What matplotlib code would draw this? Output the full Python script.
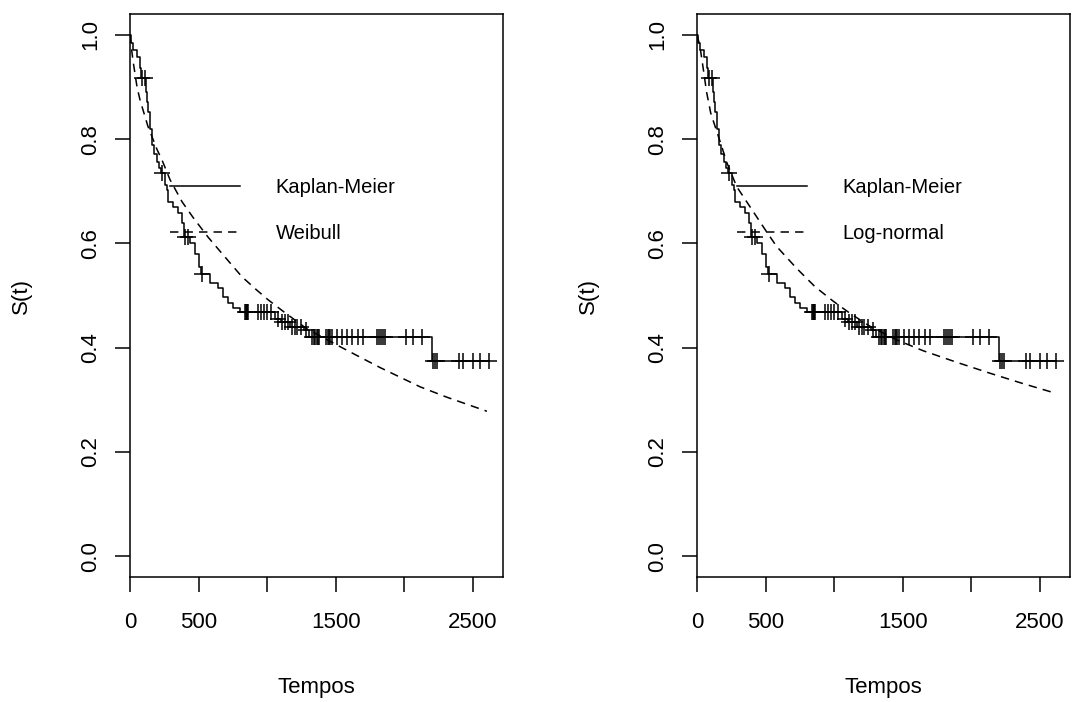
import matplotlib
matplotlib.use('Agg')
import matplotlib.pyplot as plt
from matplotlib.lines import Line2D
import numpy as np

plt.rcParams['font.family'] = ['Liberation Sans', 'DejaVu Sans']

# Kaplan-Meier steps (time, survival after the drop)
km_time = [0, 5, 24, 49, 73, 80, 120, 126, 133, 145, 158, 175, 194, 212, 225, 255, 270, 277, 313, 350,
           379, 390, 437, 474, 500, 515, 583, 641, 678, 714, 751, 802, 1057, 1100, 1166, 1268, 1305, 2201]
km_surv = [1.0, 0.985, 0.971, 0.958, 0.936, 0.917, 0.891, 0.872, 0.853, 0.82, 0.789, 0.772, 0.757, 0.745,
           0.735, 0.712, 0.702, 0.68, 0.67, 0.658, 0.64, 0.612, 0.60, 0.58, 0.555, 0.542, 0.524, 0.514,
           0.497, 0.486, 0.476, 0.468, 0.455, 0.449, 0.44, 0.434, 0.42, 0.374]

# censored times
censor = [85, 112, 233, 398, 420, 525, 840, 845, 850, 855, 860, 930, 955, 975, 1000, 1030,
          1080, 1110, 1130, 1150, 1180, 1200, 1220, 1250, 1280, 1330, 1340, 1350, 1360, 1370, 1380,
          1430, 1440, 1450, 1460, 1470, 1509, 1545, 1582, 1618, 1662, 1698, 1800, 1815, 1830, 1845,
          1860, 2012, 2063, 2128, 2210, 2225, 2240, 2400, 2425, 2500, 2551, 2617]

# fitted curves
weib_t = [0, 10, 22, 51, 73, 130, 197, 233, 292, 379, 459, 569, 692, 816, 926, 1006, 1115, 1290,
          1531, 1676, 1822, 2114, 2310, 2602]
weib_s = [1.0, 0.975, 0.95, 0.9, 0.875, 0.825, 0.78, 0.76, 0.722, 0.68, 0.65, 0.612, 0.574, 0.536,
          0.51, 0.492, 0.47, 0.436, 0.402, 0.382, 0.362, 0.325, 0.305, 0.278]
ln_t = [0, 20, 40, 70, 100, 180, 216, 289, 435, 508, 581, 727, 860, 994, 1115, 1261, 1455, 1650,
        1893, 2136, 2378, 2609]
ln_s = [1.0, 0.98, 0.945, 0.89, 0.85, 0.786, 0.756, 0.709, 0.651, 0.622, 0.594, 0.552, 0.517, 0.489,
        0.466, 0.441, 0.415, 0.394, 0.372, 0.351, 0.331, 0.313]

x_ticks = [0, 500, 1000, 1500, 2000, 2500]
x_labels = ['0', '500', '', '1500', '', '2500']
y_ticks = [0.0, 0.2, 0.4, 0.6, 0.8, 1.0]
y_labels = ['0.0', '0.2', '0.4', '0.6', '0.8', '1.0']

km_time = np.array(km_time)
km_surv = np.array(km_surv)
censor = np.array(censor)
cens_s = km_surv[np.searchsorted(km_time, censor, side='right') - 1]
step_t = np.append(km_time, censor.max())
step_s = np.append(km_surv, km_surv[-1])

fig = plt.figure(figsize=(10.72, 7.02), dpi=100)
lw = 1.1
panels = [(0.1213, 'Weibull', weib_t, weib_s), (0.6502, 'Log-normal', ln_t, ln_s)]

for left, name, ft, fs in panels:
    ax = fig.add_axes([left, 0.178, 0.348, 0.802])
    ax.plot(step_t, step_s, drawstyle='steps-post', color='black', lw=lw)
    ax.plot(censor, cens_s, '+', color='black', markersize=12, markeredgewidth=lw)
    fl, = ax.plot(ft, fs, color='black', lw=lw)
    fl.set_dashes((5.5, 4))

    ax.set_xlim(0, 2720)
    ax.set_ylim(-0.04, 1.04)
    ax.set_xticks(x_ticks)
    ax.set_xticklabels(x_labels, fontsize=16)
    ax.set_yticks(y_ticks)
    ax.set_yticklabels(y_labels, fontsize=16, rotation=90, va='center')
    ax.tick_params(direction='out', length=11, width=lw, colors='black')
    ax.tick_params(axis='x', pad=14)
    ax.tick_params(axis='y', pad=10)
    for s in ax.spines.values():
        s.set_linewidth(lw)
    ax.set_xlabel('Tempos', fontsize=16)
    ax.set_ylabel('S(t)', fontsize=16)
    ax.xaxis.set_label_coords(0.5, -0.178)
    ax.yaxis.set_label_coords(-0.263, 0.5)

    h1 = Line2D([], [], color='black', lw=lw)
    h2 = Line2D([], [], color='black', lw=lw)
    h2.set_dashes((5.5, 4))
    ax.legend([h1, h2], ['Kaplan-Meier', name], loc='center left', bbox_to_anchor=(0.107, 0.651),
              frameon=False, fontsize=14.5, handlelength=3.5, handletextpad=1.75, labelspacing=1.3,
              borderpad=0, borderaxespad=0)

fig.savefig('out.png', dpi=100)
